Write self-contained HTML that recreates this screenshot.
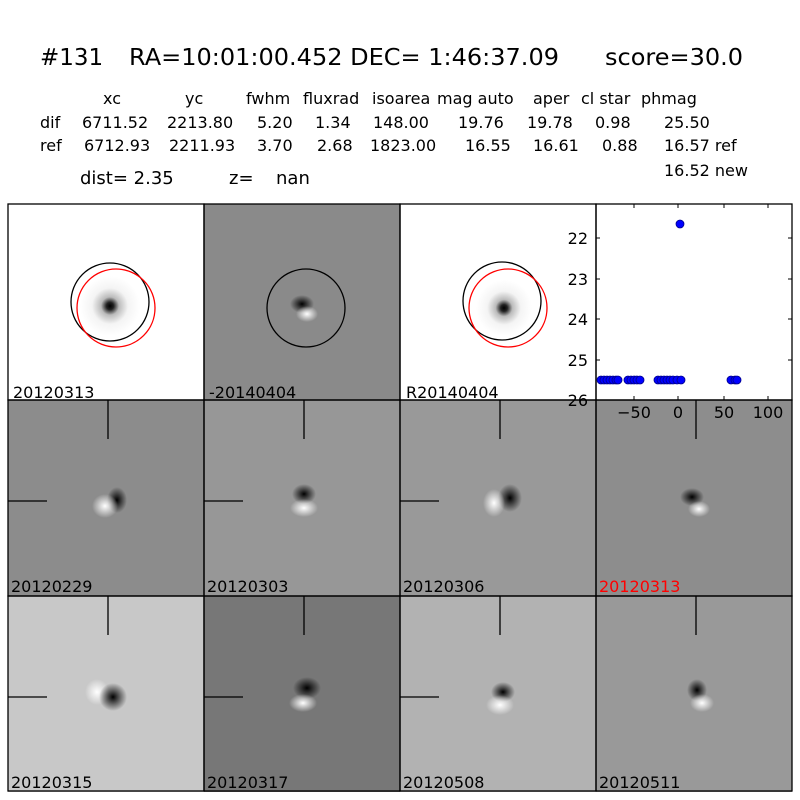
<!DOCTYPE html>
<html><head><meta charset="utf-8"><style>
html,body{margin:0;padding:0;background:#fff;width:800px;height:800px;overflow:hidden}
svg{display:block}
text{font-family:"DejaVu Sans","Liberation Sans",sans-serif;fill:#000}
</style></head><body>
<svg width="800" height="800" viewBox="0 0 800 800" xmlns="http://www.w3.org/2000/svg">
<defs>
<radialGradient id="star"><stop offset="0" stop-color="#000"/><stop offset="0.12" stop-color="#222"/><stop offset="0.3" stop-color="#bbb"/><stop offset="0.6" stop-color="#f4f4f4"/><stop offset="1" stop-color="#fff"/></radialGradient>
<radialGradient id="dk"><stop offset="0" stop-color="#000" stop-opacity="1"/><stop offset="0.4" stop-color="#000" stop-opacity="0.6"/><stop offset="1" stop-color="#000" stop-opacity="0"/></radialGradient>
<radialGradient id="wh"><stop offset="0" stop-color="#fff" stop-opacity="1"/><stop offset="0.4" stop-color="#fff" stop-opacity="0.6"/><stop offset="1" stop-color="#fff" stop-opacity="0"/></radialGradient>
</defs>
<g font-size="23">
<text x="40" y="65">#131</text>
<text x="129" y="65" textLength="430" lengthAdjust="spacingAndGlyphs">RA=10:01:00.452 DEC= 1:46:37.09</text>
<text x="605" y="65" textLength="138" lengthAdjust="spacingAndGlyphs">score=30.0</text>
</g>
<g font-size="16">
<text x="103" y="104">xc</text><text x="185" y="104">yc</text><text x="246" y="104">fwhm</text><text x="303" y="104">fluxrad</text><text x="372" y="104">isoarea</text><text x="437" y="104">mag auto</text><text x="533" y="104">aper</text><text x="581" y="104">cl star</text><text x="641" y="104">phmag</text>
<text x="40" y="128">dif</text><text x="82" y="128">6711.52</text><text x="167" y="128">2213.80</text><text x="257" y="128">5.20</text><text x="315" y="128">1.34</text><text x="373" y="128">148.00</text><text x="458" y="128">19.76</text><text x="527" y="128">19.78</text><text x="595" y="128">0.98</text><text x="664" y="128">25.50</text>
<text x="40" y="151">ref</text><text x="84" y="151">6712.93</text><text x="169" y="151">2211.93</text><text x="257" y="151">3.70</text><text x="317" y="151">2.68</text><text x="370" y="151">1823.00</text><text x="465" y="151">16.55</text><text x="533" y="151">16.61</text><text x="602" y="151">0.88</text><text x="664" y="151">16.57 ref</text>
<text x="664" y="176">16.52 new</text>
</g>
<g font-size="18"><text x="80" y="184">dist=  2.35</text><text x="229" y="184">z=</text><text x="276" y="184">nan</text></g>

<rect x="8" y="204" width="196" height="196" fill="#fff"/>
<circle cx="110" cy="306" r="30" fill="url(#star)"/>
<circle cx="110" cy="302" r="39" fill="none" stroke="#000" stroke-width="1.3"/>
<circle cx="116" cy="308" r="39" fill="none" stroke="#f00" stroke-width="1.3"/>
<rect x="204" y="204" width="196" height="196" fill="#8a8a8a"/>
<ellipse cx="302" cy="304" rx="12" ry="9" fill="url(#dk)"/>
<ellipse cx="307" cy="314" rx="11" ry="8" fill="url(#wh)"/>
<circle cx="306" cy="308" r="39" fill="none" stroke="#000" stroke-width="1.3"/>
<rect x="400" y="204" width="196" height="196" fill="#fff"/>
<circle cx="504" cy="308" r="28" fill="url(#star)"/>
<circle cx="502" cy="301" r="39" fill="none" stroke="#000" stroke-width="1.3"/>
<circle cx="508" cy="308" r="39" fill="none" stroke="#f00" stroke-width="1.3"/>
<rect x="596" y="204" width="196" height="196" fill="#fff"/>

<rect x="8" y="400" width="196" height="196" fill="#8c8c8c"/>
<ellipse cx="117" cy="500" rx="10" ry="13" fill="url(#dk)"/><ellipse cx="105" cy="506" rx="13" ry="12" fill="url(#wh)"/>
<rect x="204" y="400" width="196" height="196" fill="#979797"/>
<ellipse cx="304" cy="494" rx="12" ry="10" fill="url(#dk)"/><ellipse cx="304" cy="508" rx="14" ry="9" fill="url(#wh)"/>
<rect x="400" y="400" width="196" height="196" fill="#999"/>
<ellipse cx="510" cy="498" rx="12" ry="14" fill="url(#dk)"/><ellipse cx="494" cy="503" rx="11" ry="14" fill="url(#wh)"/>
<rect x="596" y="400" width="196" height="196" fill="#8d8d8d"/>
<ellipse cx="692" cy="497" rx="12" ry="9" fill="url(#dk)"/><ellipse cx="699" cy="509" rx="11" ry="8" fill="url(#wh)"/>

<rect x="8" y="596" width="196" height="196" fill="#c8c8c8"/>
<ellipse cx="97" cy="692" rx="12" ry="13" fill="url(#wh)"/><ellipse cx="113" cy="697" rx="14" ry="14" fill="url(#dk)"/>
<rect x="204" y="596" width="196" height="196" fill="#777"/>
<ellipse cx="307" cy="688" rx="14" ry="11" fill="url(#dk)"/><ellipse cx="303" cy="703" rx="14" ry="9" fill="url(#wh)"/>
<rect x="400" y="596" width="196" height="196" fill="#b2b2b2"/>
<ellipse cx="503" cy="692" rx="12" ry="10" fill="url(#dk)"/><ellipse cx="500" cy="705" rx="14" ry="10" fill="url(#wh)"/>
<rect x="596" y="596" width="196" height="196" fill="#999"/>
<ellipse cx="697" cy="690" rx="10" ry="11" fill="url(#dk)"/><ellipse cx="702" cy="703" rx="12" ry="9" fill="url(#wh)"/>

<g stroke="#000" stroke-width="1.3">
<line x1="108" y1="400" x2="108" y2="439"/><line x1="8" y1="501" x2="47" y2="501"/>
<line x1="304" y1="400" x2="304" y2="439"/><line x1="204" y1="501" x2="243" y2="501"/>
<line x1="500" y1="400" x2="500" y2="439"/><line x1="400" y1="501" x2="439" y2="501"/>
<line x1="696" y1="400" x2="696" y2="439"/>
<line x1="108" y1="596" x2="108" y2="635"/><line x1="8" y1="697" x2="47" y2="697"/>
<line x1="304" y1="596" x2="304" y2="635"/><line x1="204" y1="697" x2="243" y2="697"/>
<line x1="500" y1="596" x2="500" y2="635"/><line x1="400" y1="697" x2="439" y2="697"/>
<line x1="696" y1="596" x2="696" y2="635"/>
</g>

<g fill="none" stroke="#000" stroke-width="1.3">
<rect x="8" y="204" width="196" height="196"/><rect x="204" y="204" width="196" height="196"/><rect x="400" y="204" width="196" height="196"/><rect x="596" y="204" width="196" height="196"/>
<rect x="8" y="400" width="196" height="196"/><rect x="204" y="400" width="196" height="196"/><rect x="400" y="400" width="196" height="196"/><rect x="596" y="400" width="196" height="196"/>
<rect x="8" y="596" width="196" height="195"/><rect x="204" y="596" width="196" height="195"/><rect x="400" y="596" width="196" height="195"/><rect x="596" y="596" width="196" height="195"/>
</g>

<g stroke="#000" stroke-width="1">
<line x1="596" y1="238" x2="600" y2="238"/><line x1="596" y1="279" x2="600" y2="279"/><line x1="596" y1="319" x2="600" y2="319"/><line x1="596" y1="360" x2="600" y2="360"/>
<line x1="792" y1="238" x2="788" y2="238"/><line x1="792" y1="279" x2="788" y2="279"/><line x1="792" y1="319" x2="788" y2="319"/><line x1="792" y1="360" x2="788" y2="360"/>
<line x1="634" y1="204" x2="634" y2="208"/><line x1="678" y1="204" x2="678" y2="208"/><line x1="724" y1="204" x2="724" y2="208"/><line x1="768" y1="204" x2="768" y2="208"/>
<line x1="634" y1="400" x2="634" y2="396"/><line x1="678" y1="400" x2="678" y2="396"/><line x1="724" y1="400" x2="724" y2="396"/><line x1="768" y1="400" x2="768" y2="396"/>
</g>
<g font-size="16" text-anchor="end">
<text x="588" y="244">22</text><text x="588" y="285">23</text><text x="588" y="325">24</text><text x="588" y="366">25</text><text x="588" y="406">26</text>
</g>
<g font-size="16" text-anchor="middle">
<text x="634" y="418">−50</text><text x="678" y="418">0</text><text x="724" y="418">50</text><text x="768" y="418">100</text>
</g>
<g fill="#00f" stroke="#00008b" stroke-width="0.8">
<circle cx="680" cy="224" r="4"/>
<circle cx="601" cy="380" r="4"/><circle cx="604" cy="380" r="4"/><circle cx="607" cy="380" r="4"/><circle cx="610" cy="380" r="4"/><circle cx="613" cy="380" r="4"/><circle cx="616" cy="380" r="4"/><circle cx="618" cy="380" r="4"/>
<circle cx="628" cy="380" r="4"/><circle cx="631" cy="380" r="4"/><circle cx="634" cy="380" r="4"/><circle cx="637" cy="380" r="4"/><circle cx="640" cy="380" r="4"/>
<circle cx="658" cy="380" r="4"/><circle cx="661" cy="380" r="4"/><circle cx="664" cy="380" r="4"/><circle cx="667" cy="380" r="4"/><circle cx="670" cy="380" r="4"/><circle cx="673" cy="380" r="4"/><circle cx="677" cy="380" r="4"/><circle cx="681" cy="380" r="4"/>
<circle cx="731" cy="380" r="4"/><circle cx="735" cy="380" r="4"/><circle cx="737" cy="380" r="4"/>
</g>

<g font-size="16">
<text x="13" y="398">20120313</text><text x="209" y="398">-20140404</text><text x="406" y="398">R20140404</text>
<text x="11" y="592">20120229</text><text x="207" y="592">20120303</text><text x="403" y="592">20120306</text><text x="599" y="592" style="fill:#f00">20120313</text>
<text x="11" y="788">20120315</text><text x="207" y="788">20120317</text><text x="403" y="788">20120508</text><text x="599" y="788">20120511</text>
</g>
</svg>
</body></html>
